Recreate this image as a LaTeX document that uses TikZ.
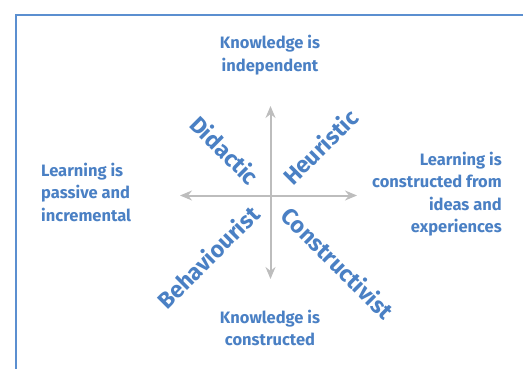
\documentclass[tikz,border=0pt]{standalone}
\usepackage{fontspec}
\setmainfont{Fira Sans}
\usetikzlibrary{arrows.meta}
\definecolor{framecol}{HTML}{5B8FD0}
\definecolor{textcol}{HTML}{4A80C4}
\definecolor{axiscol}{HTML}{BDBDBD}
\tikzset{
	pole/.style={text=textcol, align=#1, font=\fontsize{16.5}{22.5}\selectfont\bfseries, inner sep=0pt},
	stance/.style={text=textcol, font=\fontsize{23}{26}\selectfont\bfseries, inner sep=0pt},
	axis/.style={line width=2pt, color=axiscol, -{Stealth[length=12pt,width=10pt]}}
}

\begin{document}
\begin{tikzpicture}[x=1pt, y=-1pt]
		%%%%% START %%%%%
		
		\useasboundingbox (0, 0) rectangle (523, 369);
		\draw[line width=1.5pt, color=framecol] (16, 369) -- (16, 15) -- (523, 15);
		
		\coordinate (o) at (270.5, 195.5);
		\coordinate (up) at (270.5, 106);
		\coordinate (down) at (270.5, 279);
		\coordinate (left) at (180, 195.5);
		\coordinate (right) at (357, 195.5);
		\draw[axis] (o) -- (up);
		\draw[axis] (o) -- (down);
		\draw[axis] (o) -- (left);
		\draw[axis] (o) -- (right);
		
		\node[pole=center] (indep) at (270, 55) {Knowledge is\\independent};
		\node[pole=center] (constr) at (270, 328) {Knowledge is\\constructed};
		\node[pole=left, anchor=west] (passive) at (41, 192) {Learning is\\passive and\\incremental};
		\node[pole=right, anchor=east] (active) at (502, 194) {Learning is\\constructed from\\ideas and\\experiences};
		
		\node[stance, rotate=-45] (didactic) at (225, 150) {Didactic};
		\node[stance, rotate=45] (heuristic) at (320, 147) {Heuristic};
		\node[stance, rotate=45] (behav) at (208, 257) {Behaviourist};
		\node[stance, rotate=-45] (construct) at (338, 263) {Constructivist};
		
		%%%%% END %%%%%
	\end{tikzpicture}
\end{document}
